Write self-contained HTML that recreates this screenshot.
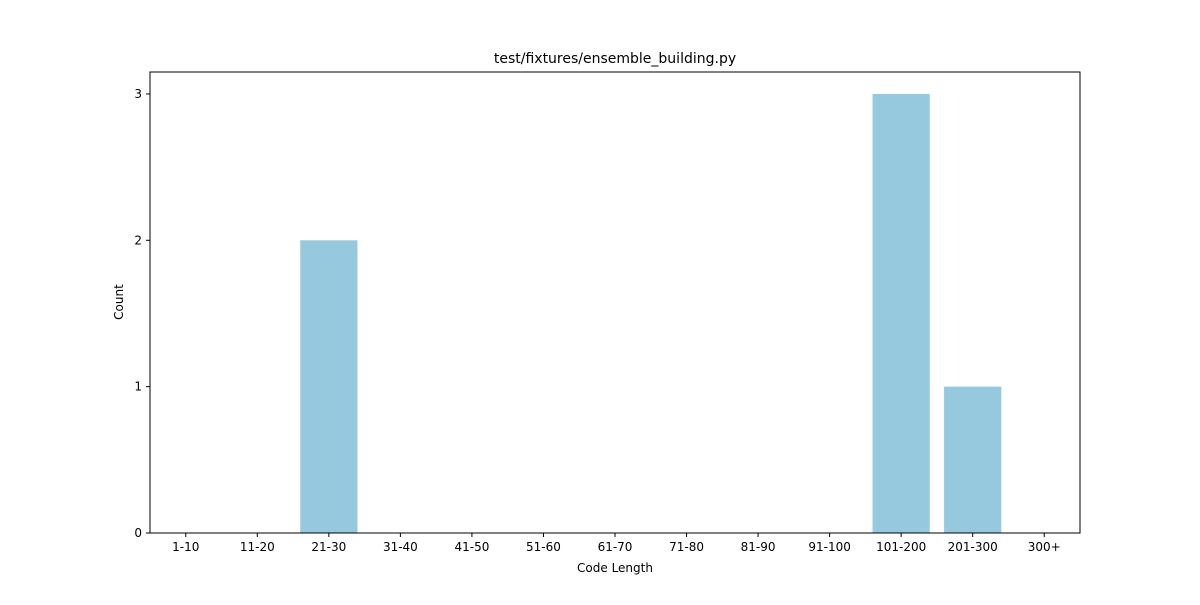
<!DOCTYPE html>
<html><head><meta charset="utf-8"><style>
html,body{margin:0;padding:0;background:#fff;}
svg text{font-family:"DejaVu Sans","Liberation Sans",sans-serif;fill:#000;}
</style></head><body>
<svg id="chart" width="1200" height="600" viewBox="0 0 1200 600" xmlns="http://www.w3.org/2000/svg">
<rect width="1200" height="600" fill="#fff"/>
<g id="bars"></g>
<g id="xticks"></g>
<g id="yticks"></g>
<rect x="150" y="72" width="930" height="461" fill="none" stroke="#000" stroke-width="1"/>
<text x="615" y="63" font-size="14" text-anchor="middle">test/fixtures/ensemble_building.py</text>
<text x="615" y="572" font-size="12" text-anchor="middle">Code Length</text>
<text x="123" y="302" font-size="12" text-anchor="middle" transform="rotate(-90 123 302)">Count</text>
</svg>
<script>
const categories = ["1-10","11-20","21-30","31-40","41-50","51-60","61-70","71-80","81-90","91-100","101-200","201-300","300+"];
const counts = [0,0,2,0,0,0,0,0,0,0,3,1,0];
const yTicks = [0,1,2,3];
const L=150,R=1080,T=72,B=533,yMax=3.15;
const NS="http://www.w3.org/2000/svg";
const step=(R-L)/categories.length;
const xc=i=>L+step*(i+0.5);
const y=v=>B-(v/yMax)*(B-T);
const bars=document.getElementById('bars'),xt=document.getElementById('xticks'),yt=document.getElementById('yticks');
function mk(tag,attrs,parent){const e=document.createElementNS(NS,tag);for(const k in attrs)e.setAttribute(k,attrs[k]);parent.appendChild(e);return e;}
categories.forEach((c,i)=>{
  const w=step*0.8;
  const r=mk('rect',{x:xc(i)-w/2,y:y(counts[i]),width:w,height:B-y(counts[i]),fill:'#96c9dd'},bars);
  
  
  const t=mk('line',{x1:xc(i),x2:xc(i),y1:B,y2:B+4,stroke:'#000'},xt);
  
  
  const tx=mk('text',{x:xc(i),y:B+18,'font-size':12,'text-anchor':'middle'},xt);
  tx.textContent=c;
  
  
});
yTicks.forEach(v=>{
  const t=mk('line',{x1:L-4,x2:L,y1:y(v),y2:y(v),stroke:'#000'},yt);
  
  
  const tx=mk('text',{x:L-8,y:y(v)+4,'font-size':12,'text-anchor':'end'},yt);
  tx.textContent=v;
  
  
});
</script>
</body></html>
